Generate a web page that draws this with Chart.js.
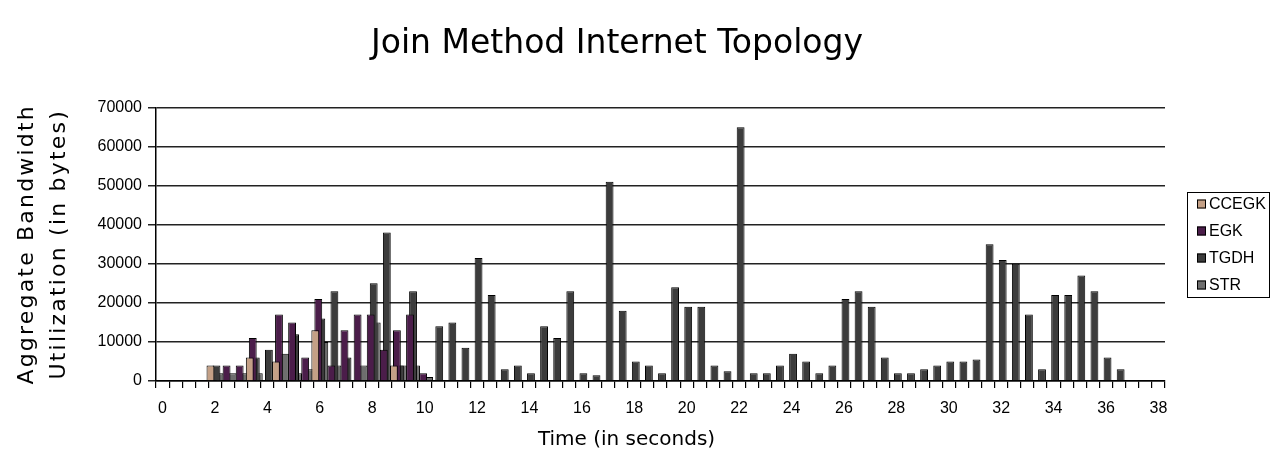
<!DOCTYPE html>
<html>
<head>
<meta charset="utf-8">
<script src="https://cdn.jsdelivr.net/npm/chart.js@4.4.1/dist/chart.umd.min.js"></script>
<style>
  html, body { margin: 0; padding: 0; background: #fff; }
  #wrap { width: 1270px; height: 459px; }
</style>
</head>
<body>
<div id="wrap"><canvas id="chart" width="1270" height="459"></canvas></div>
<script>
// Time categories, one every half second
const timeLabels = [
  '0','0.5','1','1.5','2','2.5','3','3.5','4','4.5',
  '5','5.5','6','6.5','7','7.5','8','8.5','9','9.5',
  '10','10.5','11','11.5','12','12.5','13','13.5','14','14.5',
  '15','15.5','16','16.5','17','17.5','18','18.5','19','19.5',
  '20','20.5','21','21.5','22','22.5','23','23.5','24','24.5',
  '25','25.5','26','26.5','27','27.5','28','28.5','29','29.5',
  '30','30.5','31','31.5','32','32.5','33','33.5','34','34.5',
  '35','35.5','36','36.5','37','37.5','38'
];

// Labels printed under the time axis
const xTickLabels = ['0','2','4','6','8','10','12','14','16','18','20',
                     '22','24','26','28','30','32','34','36','38'];

// Bandwidth axis ticks (bytes)
const yTicks = [0, 10000, 20000, 30000, 40000, 50000, 60000, 70000];

const seriesNames = ['CCEGK', 'EGK', 'TGDH', 'STR'];

// Aggregate bandwidth per half second (bytes); null = no traffic
const ccegk = [
  null, null, null, null, 4000, null, null, 6000, null, 5000,
  null, null, 13000, null, null, null, null, null, 4000, null,
  null, null, null, null, null, null, null, null, null, null,
  null, null, null, null, null, null, null, null, null, null,
  null, null, null, null, null, null, null, null, null, null,
  null, null, null, null, null, null, null, null, null, null,
  null, null, null, null, null, null, null, null, null, null,
  null, null, null, null, null, null, null
];

const egk = [
  null, null, null, null, null, 4000, 4000, 11000, null, 17000,
  15000, 6000, 21000, 4000, 13000, 17000, 17000, 8000, 13000, 17000,
  2000, null, null, null, null, null, null, null, null, null,
  null, null, null, null, null, null, null, null, null, null,
  null, null, null, null, null, null, null, null, null, null,
  null, null, null, null, null, null, null, null, null, null,
  null, null, null, null, null, null, null, null, null, null,
  null, null, null, null, null, null, null
];

const tgdh = [
  null, null, null, null, 4000, null, null, 6000, 8000, null,
  12000, null, 16000, 23000, 6000, null, 25000, 38000, 4000, 23000,
  null, 14000, 15000, 8500, 31500, 22000, 3000, 4000, 2000, 14000,
  11000, 23000, 2000, 1500, 51000, 18000, 5000, 4000, 2000, 24000,
  19000, 19000, 4000, 2500, 65000, 2000, 2000, 4000, 7000, 5000,
  2000, 4000, 21000, 23000, 19000, 6000, 2000, 2000, 3000, 4000,
  5000, 5000, 5500, 35000, 31000, 30000, 17000, 3000, 22000, 22000,
  27000, 23000, 6000, 3000, null, null, null
];

const str = [
  null, null, null, null, 2000, 2000, 2000, 2000, null, 7000,
  2000, 3000, 10000, 4000, null, 4000, 15000, null, 4000, 4000,
  1000, null, null, null, null, null, null, null, null, null,
  null, null, null, null, null, null, null, null, null, null,
  null, null, null, null, null, null, null, null, null, null,
  null, null, null, null, null, null, null, null, null, null,
  null, null, null, null, null, null, null, null, null, null,
  null, null, null, null, null, null, null
];

const seriesColors = ['#c4a086', '#4b1d4a', '#3c3c3c', '#6e6e6e'];
const seriesData = [ccegk, egk, tgdh, str];

// Draw an axis title with extra letter spacing and an optional shift
function styleAxisTitle(scale, spacing, dx) {
  if (scale.$styledTitle) return;
  const draw = scale.drawTitle;
  scale.drawTitle = function (...args) {
    const ctx = this.ctx;
    ctx.save();
    ctx.letterSpacing = spacing;
    ctx.translate(dx, 0);
    draw.apply(this, args);
    ctx.restore();
  };
  scale.$styledTitle = true;
}

// Boxed legend to the right of the plot
const boxedLegend = {
  id: 'boxedLegend',
  afterDraw(chart, args, o) {
    const ctx = chart.ctx;
    ctx.save();
    ctx.lineWidth = 1;
    ctx.strokeStyle = '#000';
    ctx.strokeRect(o.x + 0.5, o.y + 0.5, o.w, o.h);
    ctx.font = o.font;
    ctx.textBaseline = 'middle';
    ctx.textAlign = 'left';
    chart.data.datasets.forEach((ds, i) => {
      const cy = o.y + o.firstRow + i * o.rowStep;
      ctx.fillStyle = ds.backgroundColor;
      ctx.fillRect(o.x + o.markerX, cy - o.marker / 2, o.marker, o.marker);
      ctx.strokeRect(o.x + o.markerX + 0.5, cy - o.marker / 2 + 0.5, o.marker - 1, o.marker - 1);
      ctx.fillStyle = '#000';
      ctx.fillText(ds.label, o.x + o.textX, cy + 1);
    });
    ctx.restore();
  }
};

new Chart(document.getElementById('chart'), {
  type: 'bar',
  data: {
    labels: timeLabels,
    datasets: seriesNames.map((name, i) => ({
      label: name,
      data: seriesData[i],
      backgroundColor: seriesColors[i],
      borderColor: '#000',
      borderWidth: 1,
      borderSkipped: 'bottom',
      categoryPercentage: 0.92,
      barPercentage: 2.6
    }))
  },
  options: {
    responsive: false,
    animation: false,
    events: [],
    layout: { padding: { left: 0, right: 36, top: 0, bottom: 0 } },
    plugins: {
      legend: { display: false },
      tooltip: { enabled: false },
      title: {
        display: true,
        text: 'Join Method Internet Topology',
        color: '#000',
        font: { family: 'DejaVu Sans', size: 33, weight: 'normal', lineHeight: 1.2 },
        padding: { top: 25, bottom: 43 }
      },
      boxedLegend: {
        x: 1187, y: 192, w: 82, h: 105,
        markerX: 10, marker: 9, textX: 22,
        firstRow: 12, rowStep: 27,
        font: '16px "Liberation Sans", Arial, sans-serif'
      }
    },
    scales: {
      x: {
        type: 'category',
        offset: true,
        grid: {
          offset: true,
          drawOnChartArea: false,
          drawTicks: true,
          tickLength: 7,
          color: '#000',
          lineWidth: 1.2
        },
        border: { display: true, color: '#000', width: 1.5 },
        ticks: {
          autoSkip: false,
          maxRotation: 0,
          minRotation: 0,
          padding: 11,
          color: '#000',
          font: { family: 'Liberation Sans', size: 16 },
          callback: (value, index) => xTickLabels.includes(timeLabels[index]) ? timeLabels[index] : ''
        },
        title: {
          display: true,
          text: 'Time (in seconds)',
          color: '#000',
          font: { family: 'DejaVu Sans', size: 20, lineHeight: 1.2 },
          padding: { top: 0, bottom: 7 }
        },
        afterFit: (scale) => { scale.height = 78; styleAxisTitle(scale, '0px', -34); }
      },
      y: {
        min: 0,
        max: 70000,
        afterBuildTicks: (scale) => { scale.ticks = yTicks.map(v => ({ value: v })); },
        grid: {
          color: '#222',
          lineWidth: 1.5,
          drawTicks: true,
          tickLength: 8
        },
        border: { display: true, color: '#000', width: 1.5 },
        ticks: {
          padding: 6,
          color: '#000',
          font: { family: 'Liberation Sans', size: 16 },
          callback: (v) => String(v)
        },
        title: {
          display: true,
          text: ['Aggregate Bandwidth', 'Utilization (in bytes)'],
          color: '#000',
          font: { family: 'DejaVu Sans', size: 22, lineHeight: 1.45 },
          padding: { top: 11, bottom: 0 }
        },
        afterFit: (scale) => { scale.width = 156; styleAxisTitle(scale, '2.2px', 0); }
      },
      // empty right-hand strip that holds the legend
      legendSpace: {
        type: 'linear',
        position: 'right',
        display: true,
        grid: { display: false, drawTicks: false },
        border: { display: false },
        ticks: { display: false },
        afterFit: (scale) => { scale.width = 69; }
      }
    }
  },
  plugins: [boxedLegend]
});
</script>
</body>
</html>
